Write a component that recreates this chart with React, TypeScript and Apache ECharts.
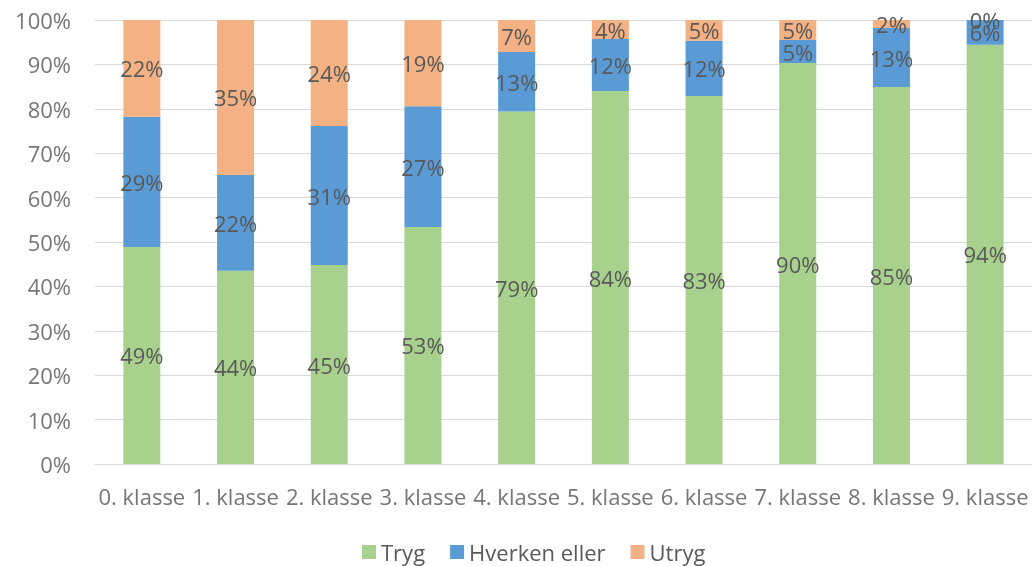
import React, { useEffect, useRef } from "react";
import * as echarts from "echarts";

const categories = ["0. klasse", "1. klasse", "2. klasse", "3. klasse", "4. klasse", "5. klasse", "6. klasse", "7. klasse", "8. klasse", "9. klasse"];
const tryg = [48.9, 43.5, 44.8, 53.4, 79.4, 84.0, 82.9, 90.3, 84.9, 94.4];
const hverken = [29.3, 21.6, 31.3, 27.2, 13.4, 11.7, 12.4, 5.2, 13.3, 5.6];
const utryg = [21.8, 34.9, 23.9, 19.4, 7.2, 4.3, 4.7, 4.5, 1.8, 0];
const seriesNames = ["Tryg", "Hverken eller", "Utryg"];
const colors = ["#A9D18E", "#5B9BD5", "#F4B183"];

const FONT = "'Open Sans', sans-serif";
const FS = 22;

export default function App() {
  const ref = useRef<HTMLDivElement>(null);
  useEffect(() => {
    if (!ref.current) return;
    const chart = echarts.init(ref.current, null, { renderer: "svg" });
    const data = [tryg, hverken, utryg];
    chart.setOption({
      animation: false,
      textStyle: { fontFamily: FONT },
      grid: { left: 95, right: 0, top: 20, bottom: 102, containLabel: false },
      legend: {
        bottom: -2,
        left: 357,
        icon: "rect",
        itemWidth: 14,
        itemHeight: 14,
        itemGap: 25,
        textStyle: { fontSize: FS, color: "#595959", fontFamily: FONT },
        data: seriesNames,
      },
      xAxis: {
        type: "category",
        data: categories,
        axisLine: { show: true, lineStyle: { color: "#d9d9d9", width: 1 } },
        axisTick: { show: false },
        axisLabel: { interval: 0, fontSize: FS, color: "#767676", margin: 21, fontFamily: FONT },
      },
      yAxis: {
        type: "value",
        min: 0,
        max: 100,
        interval: 10,
        axisLine: { show: false },
        axisTick: { show: false },
        splitLine: { lineStyle: { color: "#d9d9d9", width: 1 } },
        axisLabel: { fontSize: FS, color: "#767676", margin: 24, formatter: (v: number) => v + "%", fontFamily: FONT },
      },
      series: seriesNames.map((name, i) => ({
        name,
        type: "bar",
        stack: "total",
        barWidth: "39.5%",
        itemStyle: { color: colors[i] },
        label: {
          show: true,
          position: "inside",
          fontSize: FS,
          color: "#595959",
          fontFamily: FONT,
          formatter: (p: any) => Math.round(p.value) + "%",
        },
        data: data[i],
      })),
    });
    return () => chart.dispose();
  }, []);
  return <div ref={ref} style={{ position: "fixed", left: 0, top: 0, width: 1032, height: 566 }} />;
}
